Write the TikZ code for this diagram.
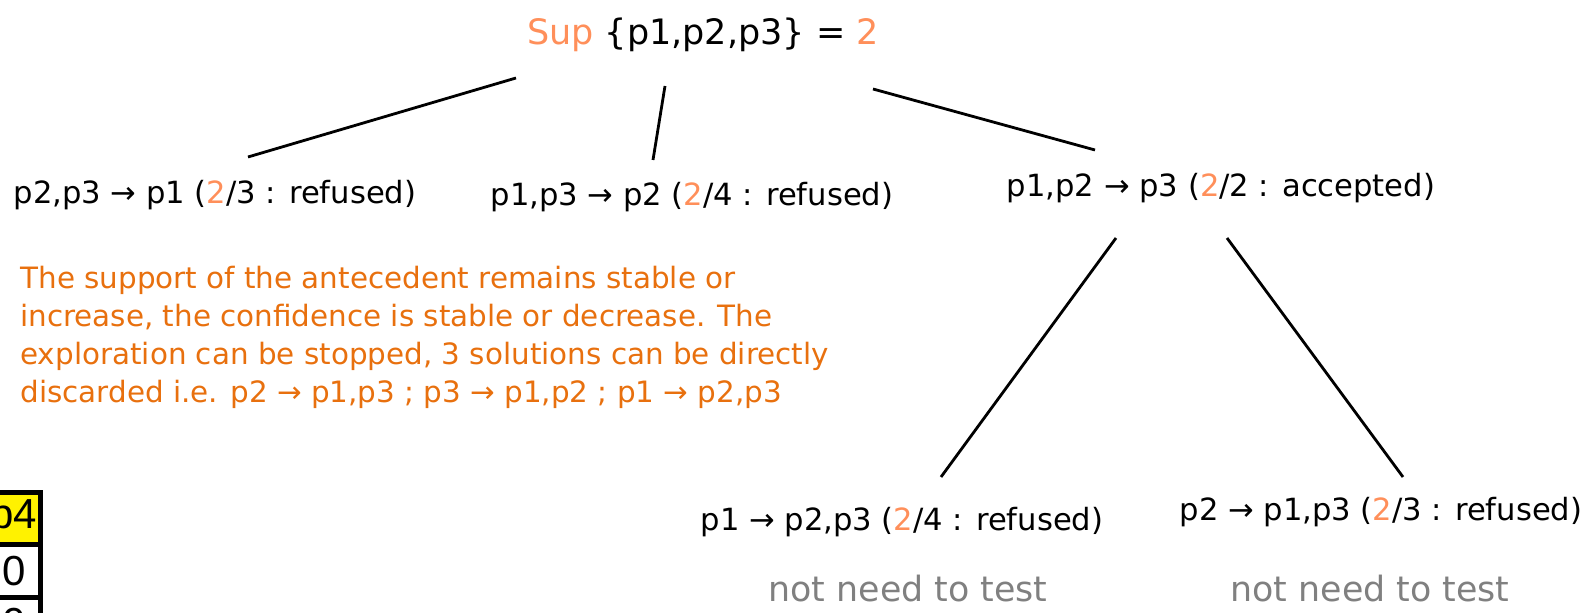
\documentclass[tikz,border=0pt]{standalone}
\usepackage{fontspec}
\setmainfont{DejaVu Sans}
\newfontfamily\tablefont{Liberation Sans}
\usetikzlibrary{calc}
\definecolor{suporange}{HTML}{FF8F5A}
\definecolor{noteorange}{HTML}{E8700E}
\definecolor{skipgray}{HTML}{808080}
\newcommand{\supval}{\textcolor{suporange}{2}}

\begin{document}
\begin{tikzpicture}[x=0.5pt, y=-0.5pt,
		rule/.style={inner sep=0pt, font=\fontsize{15.3}{18}\selectfont},
		branch/.style={line width=1.4pt},
		skipnote/.style={inner sep=0pt, text=skipgray, font=\fontsize{17.4}{20}\selectfont},
		cell/.style={draw, line width=2.5pt, minimum width=26pt, minimum height=26.25pt, inner sep=0pt, font=\tablefont\fontsize{21}{24}\selectfont}]
		\useasboundingbox (0,0) rectangle (1586,613);
		% lattice of rules
		\node[inner sep=0pt, font=\fontsize{17.5}{21}\selectfont] (sup) at (703,35) {\textcolor{suporange}{Sup} \{p1,p2,p3\} = \supval};
		\node[rule] (r1) at (215,195) {p2,p3 → p1 (\supval/3 : refused)};
		\node[rule] (r2) at (692,197) {p1,p3 → p2 (\supval/4 : refused)};
		\node[rule] (r3) at (1221,188) {p1,p2 → p3 (\supval/2 : accepted)};
		\node[rule] (r4) at (902,522) {p1 → p2,p3 (\supval/4 : refused)};
		\node[rule] (r5) at (1381,512) {p2 → p1,p3 (\supval/3 : refused)};
		\node[skipnote] (skip4) at (908,589) {not need to test};
		\node[skipnote] (skip5) at (1370,589) {not need to test};
		\node[inner sep=0pt, anchor=north west, align=left, text=noteorange, font=\fontsize{14.7}{19}\selectfont] (note) at (20,266) {The support of the antecedent remains stable or\\increase, the confidence is stable or decrease. The\\exploration can be stopped, 3 solutions can be directly\\discarded i.e. p2 → p1,p3 ; p3 → p1,p2 ; p1 → p2,p3};
		% table fragment
		\node[cell, fill=yellow] (p4head) at (14,518.5) {p4};
		\node[cell, fill=white] (p4row1) at (14,571) {0};
		\node[cell, fill=white] (p4row2) at (14,623.5) {0};
		\draw[branch] ($(sup.center)+(-187,43)$) -- ($(r1.center)+(33,-38)$);
		\draw[branch] ($(sup.center)+(-38,51)$) -- ($(r2.center)+(-39,-37)$);
		\draw[branch] ($(sup.center)+(170,54)$) -- ($(r3.center)+(-126,-38)$);
		\draw[branch] ($(r3.center)+(-105,50)$) -- ($(r4.center)+(39,-45)$);
		\draw[branch] ($(r3.center)+(6,50)$) -- ($(r5.center)+(22,-35)$);
	\end{tikzpicture}
\end{document}
